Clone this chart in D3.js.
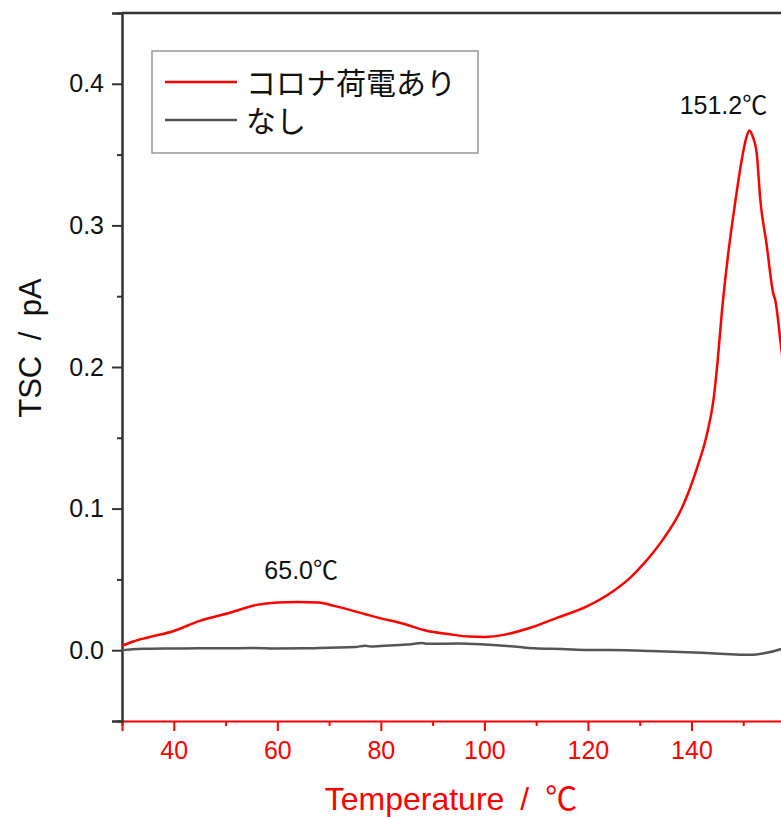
<!DOCTYPE html>
<html>
<head>
<meta charset="utf-8">
<script src="https://cdn.jsdelivr.net/npm/d3@7"></script>
<style>
  body { margin: 0; background: #fff; }
  svg { display: block; }
  text { font-family: "Liberation Sans", Arial, "Noto Sans CJK JP", sans-serif; }
  .jp { font-family: "Noto Sans CJK JP", sans-serif; }
</style>
</head>
<body>
<svg id="chart" width="781" height="818"></svg>
<script>
// red trace (corona charged)
const tempRed = [30, 32, 35, 40, 45, 51, 56, 60, 64, 68, 71, 77, 80, 84, 89, 93, 97, 100, 104, 109, 114, 120, 125, 128.2, 131, 134.3, 138.2, 141.1, 143, 144.3, 145.1, 145.9, 147.1, 148.4, 149.7, 150.6, 151.2, 151.8, 152.6, 153.3, 154.5, 155.8, 156.2, 157.4, 158.5, 160];
const tscRed  = [0.003, 0.006, 0.009, 0.0136, 0.0207, 0.0266, 0.032, 0.0337, 0.0341, 0.0337, 0.0313, 0.0254, 0.0225, 0.019, 0.0136, 0.0115, 0.0096, 0.0094, 0.011, 0.016, 0.0228, 0.0313, 0.042, 0.0513, 0.062, 0.0772, 0.1008, 0.129, 0.1527, 0.178, 0.206, 0.2398, 0.28, 0.315, 0.346, 0.362, 0.367, 0.363, 0.351, 0.318, 0.287, 0.252, 0.247, 0.2115, 0.18, 0.14];

// gray trace (none)
const tempGray = [30, 32, 35, 40, 45, 50, 55, 60, 65, 70, 75, 77, 78, 80, 85, 88, 89, 95, 100, 105.7, 109.6, 115, 120, 127.6, 132, 137.8, 142, 147.5, 151.4, 154, 157.2, 160];
const tscGray  = [0.0, 0.0007, 0.001, 0.0012, 0.0014, 0.0013, 0.0015, 0.0012, 0.0013, 0.0018, 0.0022, 0.0032, 0.0026, 0.003, 0.004, 0.005, 0.0045, 0.0047, 0.004, 0.0026, 0.0013, 0.0008, 0.0002, 0.0, -0.0005, -0.0012, -0.0018, -0.0028, -0.0033, -0.0022, 0.0007, 0.005];

const seriesNames = ["コロナ荷電あり", "なし"];
const seriesColors = ["#ff0000", "#555555"];

const peakTemps = [65.0, 151.2];
const peakVals = [0.034, 0.367];
const peakLabels = ["65.0℃", "151.2℃"];
const peakDx = [-2, -26];
const peakDy = [-23, -17];

const xTicks = [40, 60, 80, 100, 120, 140];
const yTicks = [0.0, 0.1, 0.2, 0.3, 0.4];

const margin = {left: 122, top: 13};
const plotW = 673, plotH = 708;

const svg = d3.select("#chart");

const x = d3.scaleLinear().domain([30, 160]).range([margin.left, margin.left + plotW]);
const y = d3.scaleLinear().domain([-0.05, 0.45]).range([margin.top + plotH, margin.top]);

// top frame line
svg.append("line")
  .attr("x1", x(30)).attr("x2", x(160))
  .attr("y1", y(0.45)).attr("y2", y(0.45))
  .attr("stroke", "#333").attr("stroke-width", 2.5);

// minor ticks
const xMinor = d3.range(30, 161, 10).filter(d => !xTicks.includes(d));
const yMinor = [-0.05, 0.05, 0.15, 0.25, 0.35, 0.45];

const gx = svg.append("g")
  .attr("transform", `translate(0,${y(-0.05)})`)
  .call(d3.axisBottom(x).tickValues(xTicks).tickSize(10).tickPadding(10).tickFormat(d3.format("d")));
gx.select(".domain").attr("stroke", "#ff0000").attr("stroke-width", 2);
gx.selectAll(".tick line").attr("stroke", "#ff0000").attr("stroke-width", 2);
gx.selectAll(".tick text").attr("fill", "#ff0000").attr("font-size", 25)
  .attr("font-family", "'Liberation Sans', Arial, sans-serif");

svg.append("g")
  .attr("transform", `translate(0,${y(-0.05)})`)
  .call(d3.axisBottom(x).tickValues(xMinor).tickSize(5).tickFormat(""))
  .call(g => g.select(".domain").remove())
  .call(g => g.selectAll(".tick line").attr("stroke", "#ff0000").attr("stroke-width", 2));

const gy = svg.append("g")
  .attr("transform", `translate(${x(30)},0)`)
  .call(d3.axisLeft(y).tickValues(yTicks).tickSize(10).tickPadding(8).tickFormat(d3.format(".1f")));
gy.select(".domain").attr("stroke", "#333").attr("stroke-width", 2.5);
gy.selectAll(".tick line").attr("stroke", "#333").attr("stroke-width", 2);
gy.selectAll(".tick text").attr("fill", "#111").attr("font-size", 25)
  .attr("font-family", "'Liberation Sans', Arial, sans-serif");

svg.append("g")
  .attr("transform", `translate(${x(30)},0)`)
  .call(d3.axisLeft(y).tickValues(yMinor).tickSize(5).tickFormat(""))
  .call(g => g.select(".domain").remove())
  .call(g => g.selectAll(".tick line").attr("stroke", "#333").attr("stroke-width", 2));

// curves
const line = d3.line().x(d => x(d[0])).y(d => y(d[1])).curve(d3.curveMonotoneX);

svg.append("path")
  .datum(tempGray.map((t, i) => [t, tscGray[i]]))
  .attr("fill", "none").attr("stroke", seriesColors[1]).attr("stroke-width", 2.5)
  .attr("d", line);

svg.append("path")
  .datum(tempRed.map((t, i) => [t, tscRed[i]]))
  .attr("fill", "none").attr("stroke", seriesColors[0]).attr("stroke-width", 2.5)
  .attr("d", line);

// peak labels
svg.selectAll("text.peak")
  .data(peakTemps)
  .join("text")
  .attr("class", "peak")
  .attr("x", (d, i) => x(d) + peakDx[i])
  .attr("y", (d, i) => y(peakVals[i]) + peakDy[i])
  .attr("text-anchor", "middle")
  .attr("font-size", 25)
  .attr("fill", "#111")
  .text((d, i) => peakLabels[i]);

// axis titles
svg.append("text")
  .attr("x", 451).attr("y", 810)
  .attr("text-anchor", "middle")
  .attr("font-size", 32)
  .attr("fill", "#ff0000")
  .text("Temperature\u2002/\u2002℃");

svg.append("text")
  .attr("transform", "translate(41,348) rotate(-90)")
  .attr("text-anchor", "middle")
  .attr("font-size", 31)
  .attr("fill", "#111")
  .text("TSC\u2002/\u2002pA");

// legend
const legend = svg.append("g").attr("transform", "translate(152,51)");
legend.append("rect")
  .attr("width", 326).attr("height", 102)
  .attr("fill", "#fff").attr("stroke", "#888").attr("stroke-width", 1.3);

seriesNames.forEach((name, i) => {
  const ly = 31 + i * 38;
  legend.append("line")
    .attr("x1", 13).attr("x2", 85).attr("y1", ly).attr("y2", ly)
    .attr("stroke", seriesColors[i]).attr("stroke-width", 2.5);
  legend.append("text")
    .attr("class", "jp")
    .attr("x", 94).attr("y", ly + 12)
    .attr("font-size", 30)
    .attr("fill", "#111")
    .text(name);
});
</script>
</body>
</html>
